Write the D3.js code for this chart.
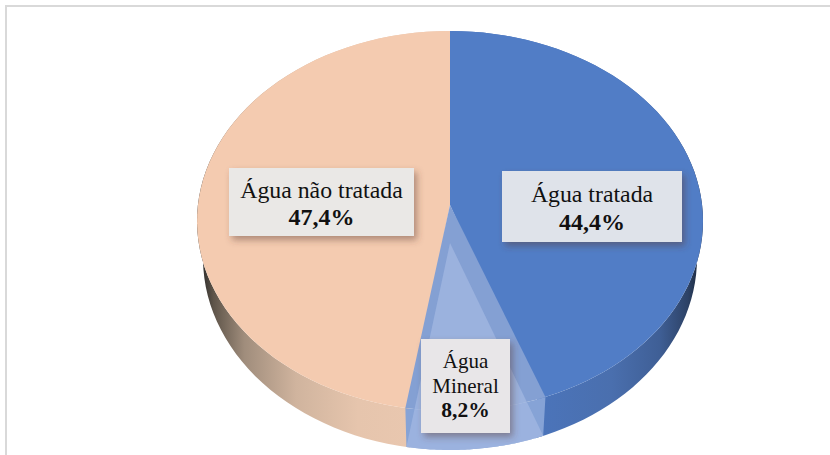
<!DOCTYPE html>
<html><head><meta charset="utf-8">
<script src="https://cdn.jsdelivr.net/npm/d3@7"></script>
<style>html,body{margin:0;padding:0;background:#fff}svg{display:block}text{font-family:"Liberation Serif",serif;fill:#111}</style>
</head><body><div id="c"></div>
<script>
const categories = ["Água tratada", "Água Mineral", "Água não tratada"];
const values = [44.4, 8.2, 47.4];
const valueLabels = ["44,4%", "8,2%", "47,4%"];
const labelLines = [["Água tratada"], ["Água", "Mineral"], ["Água não tratada"]];
const topColors = ["#517dc6", "#84a0d3", "#f4cbb0"];

const W = 830, H = 455;
const svg = d3.select("#c").append("svg").attr("width", W).attr("height", H);
const defs = svg.append("defs");

const g1 = defs.append("linearGradient").attr("id", "sideL").attr("gradientUnits", "userSpaceOnUse")
  .attr("x1", 203).attr("x2", 410).attr("y1", 0).attr("y2", 0);
[[0, "#33312f"], [0.05, "#5e5449"], [0.2, "#a08d7c"], [0.45, "#d0b49e"], [0.75, "#e6c5ad"], [1, "#e9c7af"]]
  .forEach(([o, c]) => g1.append("stop").attr("offset", o).attr("stop-color", c));
const g2 = defs.append("linearGradient").attr("id", "sideR").attr("gradientUnits", "userSpaceOnUse")
  .attr("x1", 540).attr("x2", 699).attr("y1", 0).attr("y2", 0);
[[0, "#4b74ba"], [0.45, "#4a6fae"], [0.75, "#3f5f96"], [0.93, "#2d4266"], [1, "#1d2a40"]]
  .forEach(([o, c]) => g2.append("stop").attr("offset", o).attr("stop-color", c));
const f = defs.append("filter").attr("id", "sh").attr("x", "-20%").attr("y", "-20%").attr("width", "140%").attr("height", "140%");
f.append("feDropShadow").attr("dx", 3).attr("dy", 4).attr("stdDeviation", 3.5)
  .attr("flood-color", "#5a3a30").attr("flood-opacity", 0.45);

// frame
svg.append("rect").attr("x", 5).attr("y", 5).attr("width", W - 5).attr("height", 2).attr("fill", "#d9d9d9");
svg.append("rect").attr("x", 5).attr("y", 5).attr("width", 2).attr("height", H - 5).attr("fill", "#d9d9d9");

const cx = 450;
const upper = {cy: 221, rx: 253, ry: 190, apex: 205};
const lower = {cy: 258, rx: 247, ry: 192, apex: 243};
const pie = d3.pie().sort(null).value(d => d)(values);
// the projected 3D wedge reads slightly wider than its true share
const wedge = {startAngle: pie[1].startAngle - 0.035, endAngle: pie[1].endAngle + 0.014};
const pt = (e, a) => [cx + e.rx * Math.sin(a), e.cy - e.ry * Math.cos(a)];
const arcTo = (p, e, a) => {
  const n = 64;
  const s = d3.scaleLinear().domain([0, n]).range(a);
  d3.range(n + 1).forEach(i => { const q = pt(e, s(i)); p.lineTo(q[0], q[1]); });
};
const sector = (e, d) => {
  const p = d3.path();
  p.moveTo(cx, e.apex);
  arcTo(p, e, [d.startAngle, d.endAngle]);
  p.closePath();
  return p.toString();
};
const band = (a) => {
  const p = d3.path();
  const q0 = pt(upper, a[0]);
  p.moveTo(q0[0], q0[1]);
  arcTo(p, upper, a);
  arcTo(p, lower, [a[1], a[0]]);
  p.closePath();
  return p.toString();
};

// side walls
svg.append("path").attr("d", band([pie[0].startAngle, pie[0].endAngle])).attr("fill", "url(#sideR)");
svg.append("path").attr("d", band([pie[2].startAngle, pie[2].endAngle])).attr("fill", "url(#sideL)");
svg.append("path").attr("d", band([wedge.startAngle, wedge.endAngle])).attr("fill", "#86a3d6");

// top faces
svg.append("path").attr("d", sector(upper, pie[0])).attr("fill", topColors[0]);
svg.append("path").attr("d", sector(upper, pie[2])).attr("fill", topColors[2]);
svg.append("path").attr("d", sector(upper, wedge)).attr("fill", topColors[1]);

// front cut of the mineral wedge
svg.append("path").attr("d", sector(lower, wedge)).attr("fill", "#a4b8e2").attr("opacity", 0.72);

// labels
const boxes = svg.append("g");
const boxFill = ["#dfe3ea", "#e8e6e8", "#eae8e6"];
const boxX = d3.scaleOrdinal().domain(categories).range([[502, 180], [421, 89], [229, 185]]);
const boxY = d3.scaleOrdinal().domain(categories).range([[171, 71], [339, 94], [168, 68]]);
categories.forEach((c, i) => {
  const [x, w] = boxX(c), [y, h] = boxY(c);
  boxes.append("rect").attr("x", x).attr("y", y).attr("width", w).attr("height", h)
    .attr("fill", boxFill[i]).attr("filter", "url(#sh)");
  const lines = labelLines[i];
  const fs = i === 1 ? 21 : 23.8;
  const lh = i === 1 ? 24.5 : 27.5;
  const total = (lines.length + 1) * lh;
  const y0 = y + (h - total) / 2 + lh * (i === 1 ? 0.77 : 0.85);
  lines.forEach((t, k) => boxes.append("text").attr("x", x + w / 2).attr("y", y0 + k * lh)
    .attr("text-anchor", "middle").attr("font-size", fs).text(t));
  boxes.append("text").attr("x", x + w / 2).attr("y", y0 + lines.length * lh)
    .attr("text-anchor", "middle").attr("font-size", i === 1 ? 21.5 : 24).attr("font-weight", "bold").attr("fill", "#000")
    .text(valueLabels[i]);
});
</script></body></html>
